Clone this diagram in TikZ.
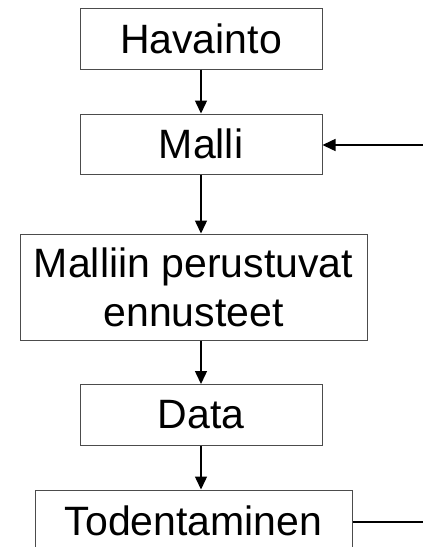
\documentclass[tikz,border=0pt]{standalone}
\usepackage{fontspec}
\setmainfont{Liberation Sans}
\usetikzlibrary{arrows.meta}
\begin{document}
\begin{tikzpicture}[x=1pt,y=-1pt,
  box/.style={draw=black!70,line width=1pt,fill=white,inner sep=0pt,align=center,
    font=\fontsize{41}{49}\selectfont},
  conn/.style={line width=1.5pt,-{Triangle[length=13pt,width=12pt]}},
  plain/.style={line width=1.5pt}]
\useasboundingbox (0,0) rectangle (423,547);
\clip (0,0) rectangle (423,547);
\node[box,minimum width=242pt,minimum height=61pt] (hav) at (201,38.5) {Havainto};
\node[box,minimum width=242pt,minimum height=60pt] (malli) at (201,144) {Malli};
\node[box,minimum width=347pt,minimum height=106pt] (ennus) at (193.5,287) {Malliin perustuvat\\ennusteet};
\node[box,minimum width=242pt,minimum height=61pt] (data) at (201,415) {Data};
\node[box,minimum width=317pt,minimum height=62pt] (tod) at (193.5,521) {Todentaminen};
\coordinate (inR) at (423,145);
\coordinate (outR) at (423,522);
\draw[conn] (hav.south) -- (malli.north);
\draw[conn] (malli.south) -- (malli.south |- ennus.north);
\draw[conn] (ennus.south -| data.north) -- (data.north);
\draw[conn] (data.south) -- (data.south |- tod.north);
\draw[conn] (inR) -- (malli.east |- inR);
\draw[plain] (tod.east |- outR) -- (outR);
\end{tikzpicture}
\end{document}
